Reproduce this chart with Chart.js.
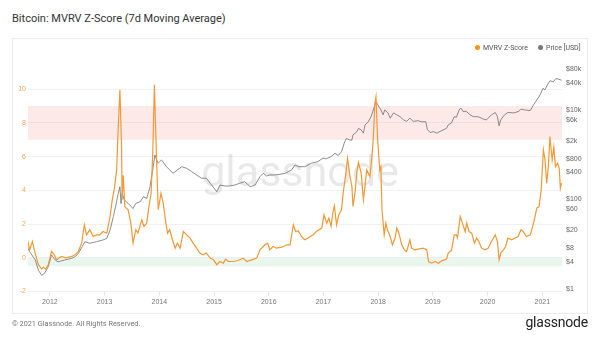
<!DOCTYPE html>
<html>
<head>
<meta charset="utf-8">
<script src="https://cdn.jsdelivr.net/npm/chart.js@4"></script>
<style>
  body { margin: 0; width: 600px; height: 338px; background: #fff; position: relative; overflow: hidden; font-family: Roboto, "Liberation Sans", sans-serif; }
  #title { position: absolute; left: 12px; top: 12px; font-size: 11px; color: #333; }
  #panel { position: absolute; left: 12px; top: 38px; width: 576px; height: 276px; border: 1px solid #ececec; box-sizing: border-box; pointer-events: none; }
  #myChart { position: absolute; left: 12px; top: 39px; }
  .leg { position: absolute; top: 44px; font-size: 7px; color: #555; }
  .dot { display: inline-block; width: 5px; height: 5px; border-radius: 50%; margin-right: 3px; vertical-align: 0px; }
  #foot { position: absolute; left: 12px; top: 319px; font-size: 7.3px; color: #777; }
  #logo { position: absolute; right: 12px; top: 314px; font-size: 14px; color: #222; letter-spacing: -0.2px; }
</style>
</head>
<body>
<div id="title">Bitcoin: MVRV Z-Score (7d Moving Average)</div>
<canvas id="myChart" width="575" height="274"></canvas>
<div id="panel"></div>
<div class="leg" style="left:475px"><span class="dot" style="background:#f7931a"></span>MVRV Z-Score</div>
<div class="leg" style="left:538px"><span class="dot" style="background:#777"></span>Price [USD]</div>
<div id="foot">© 2021 Glassnode. All Rights Reserved.</div>
<div id="logo">glassnode</div>
<script>
// MVRV Z-Score (7d MA), gelezen uit de grafiek
const zYears = [2011.59, 2011.63, 2011.68, 2011.73, 2011.79, 2011.85, 2011.88, 2011.92, 2011.97, 2012.03,
  2012.08, 2012.12, 2012.21, 2012.29, 2012.40, 2012.46, 2012.52, 2012.58, 2012.63, 2012.67,
  2012.73, 2012.79, 2012.85, 2012.91, 2012.97, 2013.04, 2013.10, 2013.14, 2013.18, 2013.22,
  2013.25, 2013.28, 2013.31, 2013.32, 2013.34, 2013.37, 2013.43, 2013.48, 2013.52, 2013.57,
  2013.61, 2013.68, 2013.72, 2013.77, 2013.81, 2013.85, 2013.88, 2013.91, 2013.95, 2013.98,
  2014.03, 2014.07, 2014.12, 2014.15, 2014.19, 2014.24, 2014.29, 2014.33, 2014.38, 2014.44,
  2014.50, 2014.56, 2014.62, 2014.68, 2014.74, 2014.80, 2014.86, 2014.93, 2014.99, 2015.05,
  2015.11, 2015.17, 2015.21, 2015.26, 2015.35, 2015.44, 2015.53, 2015.60, 2015.69, 2015.78,
  2015.84, 2015.93, 2015.98, 2016.02, 2016.08, 2016.14, 2016.24, 2016.33, 2016.39, 2016.45,
  2016.49, 2016.54, 2016.60, 2016.66, 2016.72, 2016.81, 2016.87, 2016.97, 2017.01, 2017.06,
  2017.10, 2017.14, 2017.17, 2017.20, 2017.24, 2017.28, 2017.33, 2017.36, 2017.41, 2017.44,
  2017.48, 2017.52, 2017.54, 2017.58, 2017.61, 2017.64, 2017.69, 2017.73, 2017.76, 2017.79,
  2017.85, 2017.88, 2017.91, 2017.94, 2017.96, 2017.99, 2018.03, 2018.05, 2018.07, 2018.11,
  2018.14, 2018.17, 2018.22, 2018.26, 2018.31, 2018.34, 2018.38, 2018.43, 2018.48, 2018.52,
  2018.58, 2018.61, 2018.67, 2018.73, 2018.82, 2018.89, 2018.92, 2018.98, 2019.04, 2019.10,
  2019.16, 2019.25, 2019.28, 2019.34, 2019.39, 2019.43, 2019.45, 2019.50, 2019.54, 2019.59,
  2019.62, 2019.66, 2019.71, 2019.76, 2019.80, 2019.84, 2019.89, 2019.95, 2020.01, 2020.07,
  2020.14, 2020.18, 2020.21, 2020.24, 2020.29, 2020.33, 2020.37, 2020.44, 2020.50, 2020.56,
  2020.61, 2020.65, 2020.71, 2020.78, 2020.84, 2020.90, 2020.94, 2020.98, 2021.02, 2021.05,
  2021.08, 2021.11, 2021.14, 2021.18, 2021.21, 2021.24, 2021.28, 2021.31, 2021.33, 2021.35];
const zScore = [1.1, 0.47, 0.97, 0.28, -0.41, -0.67, -0.55, -0.67, -0.41, 0.38,
  0.18, -0.12, 0.08, 0.0, 0.08, 0.18, 0.37, 0.87, 1.96, 1.36,
  1.66, 1.26, 1.36, 1.36, 1.56, 1.46, 2.45, 3.44, 4.13, 5.2,
  7.8, 9.96, 6.6, 3.44, 4.9, 3.04, 2.85, 2.06, 0.87, 1.66,
  1.46, 2.25, 1.86, 2.06, 3.04, 3.83, 6.2, 10.25, 5.8, 2.85,
  3.83, 3.26, 2.07, 1.46, 1.66, 1.07, 0.57, 0.87, 0.57, 1.56,
  1.36, 1.17, 0.87, 0.57, 0.28, 0.18, 0.28, -0.02, -0.12, -0.41,
  -0.22, -0.32, -0.08, -0.22, -0.22, -0.16, -0.02, -0.22, -0.12, -0.02,
  0.47, 0.77, 0.87, 0.47, 0.67, 0.57, 0.63, 0.77, 0.77, 1.96,
  1.56, 1.6, 1.26, 1.07, 1.17, 1.36, 1.56, 1.76, 2.55, 2.06,
  2.35, 1.86, 2.65, 3.08, 1.96, 2.55, 2.85, 3.83, 5.02, 5.91,
  4.92, 4.23, 3.04, 3.93, 5.11, 5.65, 5.02, 3.44, 4.23, 5.21,
  4.82, 5.81, 7.0, 9.17, 9.56, 7.0, 5.2, 5.4, 2.85, 1.36,
  2.06, 1.66, 1.26, 0.77, 1.17, 1.76, 1.46, 0.77, 0.47, 0.37,
  1.07, 0.57, 0.47, 0.51, 0.57, 0.47, -0.22, -0.32, -0.22, -0.32,
  -0.18, -0.08, 0.28, 0.43, 1.36, 1.36, 1.2, 2.45, 2.06, 1.56,
  2.06, 1.56, 1.46, 0.87, 1.17, 0.97, 0.57, 0.47, 0.57, 0.97,
  1.36, 0.97, -0.12, 0.28, 0.47, 0.67, 1.17, 1.07, 1.17, 1.26,
  1.66, 1.56, 1.26, 1.36, 2.06, 2.95, 3.04, 4.03, 6.4, 5.8,
  4.43, 5.41, 7.19, 5.8, 6.56, 5.41, 5.61, 5.31, 4.13, 4.43];

// BTC hind USD
const priceYears = [2011.59, 2011.63, 2011.73, 2011.79, 2011.85, 2011.90, 2011.97, 2012.03, 2012.09, 2012.15,
  2012.27, 2012.40, 2012.46, 2012.52, 2012.59, 2012.64, 2012.73, 2012.85, 2012.97, 2013.04,
  2013.10, 2013.16, 2013.20, 2013.25, 2013.28, 2013.30, 2013.32, 2013.36, 2013.43, 2013.52,
  2013.57, 2013.65, 2013.71, 2013.77, 2013.83, 2013.87, 2013.92, 2013.95, 2013.98, 2014.04,
  2014.13, 2014.19, 2014.25, 2014.41, 2014.50, 2014.59, 2014.68, 2014.77, 2014.86, 2014.93,
  2015.05, 2015.11, 2015.20, 2015.29, 2015.38, 2015.47, 2015.56, 2015.66, 2015.75, 2015.84,
  2015.90, 2015.96, 2016.02, 2016.11, 2016.20, 2016.30, 2016.42, 2016.48, 2016.54, 2016.66,
  2016.78, 2016.90, 2016.99, 2017.05, 2017.14, 2017.21, 2017.27, 2017.33, 2017.38, 2017.42,
  2017.47, 2017.52, 2017.54, 2017.61, 2017.64, 2017.69, 2017.73, 2017.76, 2017.82, 2017.87,
  2017.91, 2017.96, 2017.98, 2018.01, 2018.05, 2018.09, 2018.12, 2018.18, 2018.22, 2018.28,
  2018.34, 2018.40, 2018.46, 2018.52, 2018.58, 2018.64, 2018.73, 2018.79, 2018.87, 2018.90,
  2018.95, 2019.01, 2019.07, 2019.16, 2019.25, 2019.28, 2019.34, 2019.39, 2019.43, 2019.48,
  2019.51, 2019.55, 2019.61, 2019.68, 2019.74, 2019.83, 2019.92, 2019.98, 2020.07, 2020.14,
  2020.18, 2020.21, 2020.24, 2020.31, 2020.37, 2020.48, 2020.57, 2020.61, 2020.68, 2020.78,
  2020.84, 2020.90, 2020.96, 2021.01, 2021.05, 2021.09, 2021.14, 2021.20, 2021.25, 2021.30, 2021.35];
const price = [8.7, 6.7, 4.5, 2.6, 2.0, 2.2, 3.1, 5.7, 4.5, 4.0,
  4.4, 4.8, 5.2, 6.2, 8.7, 11.3, 10.4, 11.3, 12.3, 13.4,
  20.6, 40.8, 68, 136, 191, 80, 136, 97, 81, 62,
  81, 88, 114, 105, 191, 380, 980, 760, 640, 760,
  535, 455, 380, 535, 490, 415, 350, 295, 295, 228,
  148, 208, 198, 198, 208, 228, 248, 191, 208, 320,
  380, 330, 350, 350, 360, 380, 455, 585, 535, 535,
  640, 695, 830, 800, 900, 1070, 950, 1150, 1800, 2300,
  2120, 2100, 2750, 3230, 3830, 3550, 3000, 4600, 5400, 7000,
  9900, 15000, 14000, 11800, 9900, 7700, 9900, 8500, 6500, 8500,
  7700, 7000, 6000, 5500, 6500, 5500, 5700, 5400, 5400, 3600,
  3100, 3250, 3000, 3420, 3850, 4600, 5050, 7000, 6800, 9900,
  10900, 9200, 9200, 7700, 7000, 7000, 6200, 5950, 7700, 8700,
  7000, 4380, 5950, 7700, 8700, 8500, 9200, 10300, 9900, 9600,
  12900, 16600, 21500, 30000, 28000, 35400, 44500, 42000, 50000, 48000, 46000];

const yearTicks = [2012, 2013, 2014, 2015, 2016, 2017, 2018, 2019, 2020, 2021];
const zTicks = [-2, 0, 2, 4, 6, 8, 10];
const priceTicks = [1, 4, 8, 20, 60, 100, 400, 800, 2000, 6000, 10000, 40000, 80000];
const redBand = [7, 9];
const greenBand = [-0.5, 0];

function pairs(xs, ys) {
  return xs.map((x, i) => ({ x: x, y: ys[i] }));
}

function hind(v) {
  return v >= 1000 ? '$' + (v / 1000) + 'k' : '$' + v;
}

// ribad + vesimärk
const taust = {
  id: 'taust',
  beforeDatasetsDraw(chart) {
    const ctx = chart.ctx;
    const a = chart.chartArea;
    const z = chart.scales.z;
    ctx.save();
    let y1 = z.getPixelForValue(redBand[1]), y2 = z.getPixelForValue(redBand[0]);
    ctx.fillStyle = 'rgba(236, 120, 110, 0.16)';
    ctx.fillRect(a.left, y1, a.right - a.left, y2 - y1);
    y1 = z.getPixelForValue(greenBand[1]); y2 = z.getPixelForValue(greenBand[0]);
    ctx.fillStyle = 'rgba(120, 200, 150, 0.16)';
    ctx.fillRect(a.left, y1, a.right - a.left, y2 - y1);
    ctx.font = '43px Roboto, sans-serif';
    ctx.fillStyle = 'rgba(0, 0, 0, 0.09)';
    ctx.textAlign = 'center';
    ctx.textBaseline = 'alphabetic';
    ctx.fillText('glassnode', 288, 147);
    ctx.restore();
  }
};

const ctx = document.getElementById('myChart').getContext('2d');
const chart = new Chart(ctx, {
  type: 'line',
  data: {
    datasets: [{
      label: 'MVRV Z-Score',
      data: pairs(zYears, zScore),
      yAxisID: 'z',
      borderColor: 'rgb(244, 152, 52)',
      borderWidth: 1.2,
      pointRadius: 0,
      tension: 0,
      order: 1
    }, {
      label: 'Price [USD]',
      data: pairs(priceYears, price),
      yAxisID: 'price',
      borderColor: '#707070',
      borderWidth: 0.8,
      pointRadius: 0,
      tension: 0,
      order: 2
    }]
  },
  options: {
    responsive: false,
    animation: false,
    layout: { padding: { top: 26, left: 0, right: 0, bottom: 0 } },
    plugins: { legend: { display: false }, tooltip: { enabled: false } },
    scales: {
      x: {
        type: 'linear',
        min: 2011.6,
        max: 2021.36,
        afterBuildTicks: s => { s.ticks = yearTicks.map(v => ({ value: v })); },
        ticks: { callback: v => String(v), color: '#777', font: { size: 7 }, maxRotation: 0, autoSkip: false, padding: 2 },
        grid: { drawOnChartArea: false, tickLength: 4, color: '#e2e2e2' },
        border: { display: false },
        afterFit: s => { s.height = 21.5; }
      },
      z: {
        position: 'left',
        min: -2,
        max: 11.44,
        afterBuildTicks: s => { s.ticks = zTicks.map(v => ({ value: v })); },
        ticks: { color: '#f4a658', font: { size: 7 }, padding: 2 },
        grid: { color: '#f1f1f1', drawTicks: false },
        border: { display: false },
        afterFit: s => { s.width = 16; }
      },
      price: {
        type: 'logarithmic',
        position: 'right',
        min: 0.87,
        max: 100000,
        afterBuildTicks: s => { s.ticks = priceTicks.map(v => ({ value: v })); },
        ticks: { callback: v => hind(v), color: '#666', font: { size: 7 }, padding: 4 },
        grid: { display: false, drawTicks: false },
        border: { display: false },
        afterFit: s => { s.width = 25; }
      }
    }
  },
  plugins: [taust]
});
</script>
</body>
</html>
